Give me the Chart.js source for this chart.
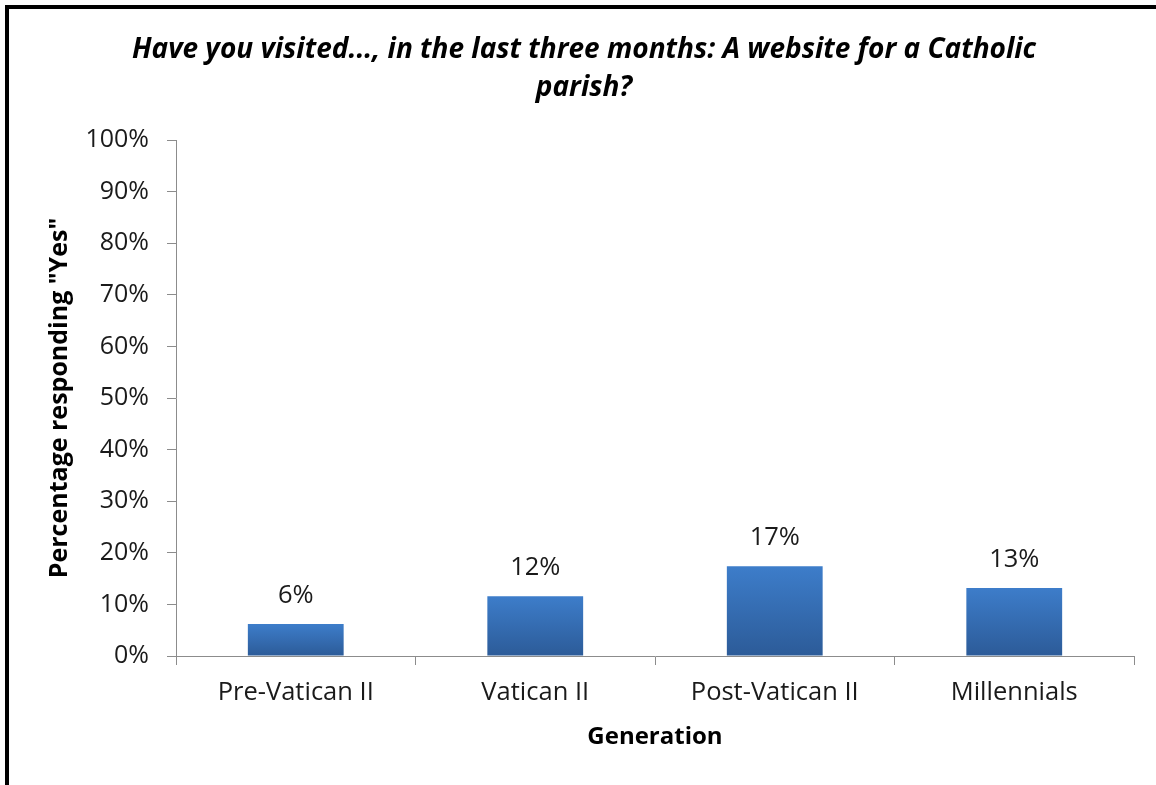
<!DOCTYPE html>
<html>
<head>
<meta charset="utf-8">
<script src="https://cdn.jsdelivr.net/npm/chart.js@4.4.1/dist/chart.umd.min.js"></script>
<style>
  html, body { margin: 0; padding: 0; background: #fff; }
  #wrap { position: relative; width: 1156px; height: 785px; overflow: hidden; }
  #frame { position: absolute; left: 5px; top: 5px; width: 1160px; height: 800px;
           border-top: 4px solid #000; border-left: 4px solid #000; box-sizing: border-box; pointer-events: none; }
  canvas { position: absolute; left: 0; top: 0; }
</style>
</head>
<body>
<div id="wrap">
  <canvas id="c" width="1156" height="785"></canvas>
  <div id="frame"></div>
</div>
<script>
const categories = ["Pre-Vatican II", "Vatican II", "Post-Vatican II", "Millennials"];
const values = [6.2, 11.6, 17.4, 13.2];
const valueLabels = ["6%", "12%", "17%", "13%"];
const yTicks = [0, 10, 20, 30, 40, 50, 60, 70, 80, 90, 100];
const titleLines = ["Have you visited..., in the last three months: A website for a Catholic", "parish?"];
const xTitle = "Generation";
const yTitle = 'Percentage responding "Yes"';

const FONT = "'Open Sans', 'DejaVu Sans', sans-serif";

const labelPlugin = {
  id: 'valueLabels',
  afterDatasetsDraw(chart) {
    const ctx = chart.ctx;
    const meta = chart.getDatasetMeta(0);
    ctx.save();
    ctx.font = "25.5px " + FONT;
    ctx.fillStyle = "#1a1a1a";
    ctx.textAlign = "center";
    ctx.textBaseline = "middle";
    meta.data.forEach((bar, i) => {
      ctx.fillText(valueLabels[i], bar.x, bar.y - 28);
    });
    ctx.restore();
  }
};

new Chart(document.getElementById('c'), {
  type: 'bar',
  data: {
    labels: categories,
    datasets: [{
      data: values,
      categoryPercentage: 1.0,
      barPercentage: 0.4,
      borderWidth: 0,
      backgroundColor(ctx) {
        const chart = ctx.chart;
        const y = chart.scales && chart.scales.y;
        if (!y || ctx.raw == null) return '#3A73BB';
        const top = y.getPixelForValue(ctx.raw);
        const bottom = y.getPixelForValue(0);
        if (!isFinite(top) || !isFinite(bottom) || top === bottom) return '#3A73BB';
        const g = chart.ctx.createLinearGradient(0, top, 0, bottom);
        g.addColorStop(0, '#3D7DCA');
        g.addColorStop(1, '#2C5B98');
        return g;
      }
    }]
  },
  options: {
    responsive: false,
    animation: false,
    devicePixelRatio: 1,
    layout: { padding: { top: 10, right: 22, bottom: 0, left: 34 } },
    plugins: {
      legend: { display: false },
      tooltip: { enabled: false },
      title: {
        display: true,
        text: titleLines,
        color: '#000',
        font: { family: FONT, size: 28, weight: 'bold', style: 'italic', lineHeight: 38 / 28 },
        padding: { top: 21, bottom: 33 }
      }
    },
    scales: {
      x: {
        afterFit(scale) { scale.height = 129; },
        grid: { display: true, drawOnChartArea: false, drawTicks: true, tickLength: 9, color: '#8c8c8c', offset: true },
        border: { display: true, color: '#8c8c8c', width: 1 },
        ticks: { color: '#1a1a1a', font: { family: FONT, size: 25.5 }, padding: 12, maxRotation: 0 },
        title: { display: true, text: xTitle, color: '#000', font: { family: FONT, size: 24, weight: 'bold' }, padding: { top: 0, bottom: 33 } }
      },
      y: {
        min: 0, max: 100,
        afterFit(scale) { scale.width = 142; },
        afterBuildTicks(scale) { scale.ticks = yTicks.map(v => ({ value: v })); },
        grid: { display: true, drawOnChartArea: false, drawTicks: true, tickLength: 9, color: '#8c8c8c' },
        border: { display: true, color: '#8c8c8c', width: 1 },
        ticks: { color: '#1a1a1a', font: { family: FONT, size: 25 }, padding: 18, callback: (v) => v + '%' },
        title: { display: true, text: yTitle, color: '#000', font: { family: FONT, size: 25, weight: 'bold' }, padding: { top: 11, bottom: 0 } }
      }
    }
  },
  plugins: [labelPlugin]
});
</script>
</body>
</html>
